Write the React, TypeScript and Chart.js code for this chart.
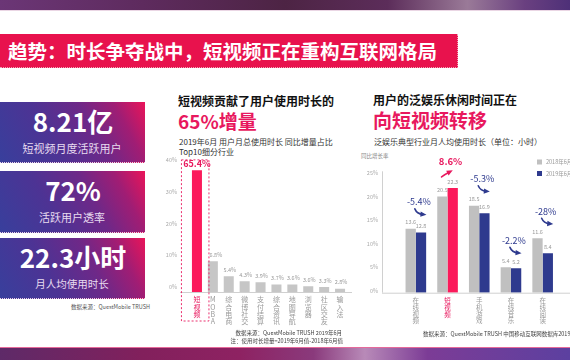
import React, { useEffect, useRef } from 'react';
import { Chart, registerables } from 'chart.js';
Chart.register(...registerables);

const FONT = '"Noto Sans CJK SC", "Noto Sans", sans-serif';

// ---- middle chart data ----
const shareCategories = ['短视频', 'MOBA', '综合电商', '微博社交', '支付结算', '综合资讯', '地图导航', '浏览器', '社区交友', '输入法'];
const shareBarHeights = [38.4, 9.7, 5.0, 3.4, 3.1, 2.4, 2.4, 1.8, 1.6, 1.0];
const shareLabels = ['65.4%', '6.8%', '5.4%', '4.3%', '3.9%', '3.7%', '3.6%', '3.6%', '3.3%', '2.8%'];

// ---- right chart data ----
const leisureCategories = ['在线视频', '短视频', '手机游戏', '在线音乐', '在线阅读'];
const hours2018 = [13.6, 20.5, 18.5, 5.4, 11.6];
const hours2019 = [12.8, 22.3, 16.9, 5.2, 8.4];
const growthLabels = ['-5.4%', '8.6%', '-5.3%', '-2.2%', '-28%'];
const seriesNames = ['2018年6月', '2019年6月'];

// ---- stat boxes ----
const statValues = ['8.21亿', '72%', '22.3小时'];
const statCaptions = ['短视频月度活跃用户', '活跃用户透率', '月人均使用时长'];

const PINK_BAR = '#fb1a5b';
const PINK_TEXT = '#e8185e';
const GRAY_BAR = '#c6c6c6';
const GRAY_BAR2 = '#c0c0c0';
const NAVY = '#2e3a8e';

function drawArrow(ctx: CanvasRenderingContext2D, x0: number, y0: number, cx: number, cy: number, x1: number, y1: number, color: string) {
  ctx.save();
  ctx.strokeStyle = color;
  ctx.fillStyle = color;
  ctx.lineWidth = 1.6;
  ctx.lineCap = 'round';
  ctx.beginPath();
  ctx.moveTo(x0, y0);
  ctx.quadraticCurveTo(cx, cy, x1, y1);
  ctx.stroke();
  const a = Math.atan2(y1 - cy, x1 - cx);
  const s = 3.6;
  ctx.beginPath();
  ctx.moveTo(x1 + Math.cos(a) * s, y1 + Math.sin(a) * s);
  ctx.lineTo(x1 + Math.cos(a + 2.3) * s, y1 + Math.sin(a + 2.3) * s);
  ctx.lineTo(x1 + Math.cos(a - 2.3) * s, y1 + Math.sin(a - 2.3) * s);
  ctx.closePath();
  ctx.fill();
  ctx.restore();
}

const shareDecor = {
  id: 'shareDecor',
  afterDatasetsDraw(chart: any) {
    const ctx = chart.ctx as CanvasRenderingContext2D;
    const area = chart.chartArea;
    const meta = chart.getDatasetMeta(0);
    ctx.save();
    // baseline
    ctx.strokeStyle = '#d0d0d0';
    ctx.lineWidth = 1;
    ctx.beginPath();
    ctx.moveTo(area.left - 9, area.bottom + 0.5);
    ctx.lineTo(area.right + 4, area.bottom + 0.5);
    ctx.stroke();
    meta.data.forEach((bar: any, i: number) => {
      ctx.textAlign = 'center';
      ctx.textBaseline = 'middle';
      if (i === 0) {
        ctx.fillStyle = PINK_TEXT;
        ctx.font = `bold 9px ${FONT}`;
        ctx.fillText(shareLabels[i], bar.x, bar.y - 7);
        // dashed frame
        ctx.strokeStyle = PINK_TEXT;
        ctx.setLineDash([2, 2]);
        ctx.lineWidth = 0.9;
        ctx.strokeRect(bar.x - 15.5, bar.y - 10.5, 27.5, area.bottom + 29 - (bar.y - 10.5));
        ctx.setLineDash([]);
      } else {
        ctx.fillStyle = '#9a9a9a';
        ctx.font = `5.5px ${FONT}`;
        ctx.fillText(shareLabels[i], bar.x + (i === 1 ? 3 : 1), bar.y - 6.5);
      }
    });
    ctx.restore();
  },
};

const leisureDecor = {
  id: 'leisureDecor',
  afterDatasetsDraw(chart: any) {
    const ctx = chart.ctx as CanvasRenderingContext2D;
    const area = chart.chartArea;
    const m0 = chart.getDatasetMeta(0);
    const m1 = chart.getDatasetMeta(1);
    ctx.save();
    ctx.strokeStyle = '#d0d0d0';
    ctx.lineWidth = 1;
    ctx.beginPath();
    ctx.moveTo(area.left - 18, area.bottom + 0.5);
    ctx.lineTo(chart.width, area.bottom + 0.5);
    ctx.moveTo(area.left - 17.5, area.top - 4);
    ctx.lineTo(area.left - 17.5, area.bottom);
    ctx.stroke();

    ctx.textAlign = 'center';
    ctx.textBaseline = 'middle';
    ctx.font = `5.5px ${FONT}`;
    ctx.fillStyle = '#9a9a9a';
    [m0, m1].forEach((m: any, d: number) => {
      const vals = d === 0 ? hours2018 : hours2019;
      m.data.forEach((bar: any, i: number) => {
        ctx.fillText(vals[i].toFixed(1), bar.x, bar.y - 6.5);
      });
    });

    // growth annotations
    m0.data.forEach((b0: any, i: number) => {
      const b1 = m1.data[i];
      const top = Math.min(b0.y, b1.y);
      const cx = (b0.x + b1.x) / 2 + 3;
      const ty = top - 27;
      const positive = !growthLabels[i].startsWith('-');
      if (positive) {
        ctx.fillStyle = PINK_TEXT;
        ctx.font = `bold 9.5px ${FONT}`;
        ctx.fillText(growthLabels[i], cx, ty);
        drawArrow(ctx, cx - 9, ty + 16, cx - 5, ty + 13, cx - 1, ty + 11, PINK_TEXT);
      } else {
        ctx.fillStyle = NAVY;
        ctx.font = `9px ${FONT}`;
        ctx.fillText(growthLabels[i], cx, ty);
        drawArrow(ctx, cx - 4, ty + 7, cx - 2, ty + 12, cx + 4, ty + 12.5, NAVY);
      }
    });

    // legend
    const colors = [GRAY_BAR2, NAVY];
    ctx.textAlign = 'left';
    ctx.font = `5.5px ${FONT}`;
    seriesNames.forEach((name, k) => {
      const y = 12 + k * 11.5;
      ctx.fillStyle = colors[k];
      ctx.fillRect(177, y - 2.5, 5, 5);
      ctx.fillStyle = '#999';
      ctx.fillText(name, 186, y);
    });
    ctx.restore();
  },
};

function T(props: { x: number; y: number; size: number; color?: string; bold?: boolean; align?: string; children: any }) {
  const { x, y, size, color = '#333', bold = false, align = 'left', children } = props;
  const style: any = {
    position: 'absolute',
    top: y - size / 2,
    fontSize: size,
    lineHeight: `${size}px`,
    color,
    fontWeight: bold ? 700 : 400,
    whiteSpace: 'nowrap',
    fontFamily: FONT,
  };
  if (align === 'left') style.left = x;
  else if (align === 'right') style.right = 570 - x;
  else {
    style.left = x - 200;
    style.width = 400;
    style.textAlign = 'center';
  }
  return <div style={style}>{children}</div>;
}

export default function App() {
  const c1 = useRef<HTMLCanvasElement>(null);
  const c2 = useRef<HTMLCanvasElement>(null);

  useEffect(() => {
    const ch1 = new Chart(c1.current as HTMLCanvasElement, {
      type: 'bar',
      data: {
        labels: shareCategories.map((s) => s.split('')),
        datasets: [
          {
            data: shareBarHeights,
            backgroundColor: shareCategories.map((_, i) => (i === 0 ? PINK_BAR : GRAY_BAR)),
            barPercentage: 0.63,
            categoryPercentage: 1,
          },
        ],
      },
      options: {
        animation: false,
        responsive: false,
        maintainAspectRatio: false,
        layout: { padding: { top: 15, right: 12, left: 0, bottom: 0 } },
        plugins: { legend: { display: false }, tooltip: { enabled: false } },
        scales: {
          x: {
            grid: { display: false, drawTicks: false },
            border: { display: false },
            ticks: {
              autoSkip: false,
              maxRotation: 0,
              minRotation: 0,
              padding: 4,
              color: (ctx: any) => (ctx.index === 0 ? PINK_TEXT : '#9a9a9a'),
              font: { family: FONT, size: 7, lineHeight: 1.04 },
            },
            afterFit: (s: any) => {
              s.height = 48;
            },
          },
          y: {
            min: 0,
            max: 40,
            grid: { display: false, drawTicks: false },
            border: { display: false },
            ticks: {
              stepSize: 10,
              padding: 12,
              labelOffset: -5,
              color: '#aaa',
              font: { family: FONT, size: 5.5 },
              callback: (v: any) => v + '%',
            },
            afterFit: (s: any) => {
              s.width = 29;
            },
          },
        },
      } as any,
      plugins: [shareDecor],
    });

    const ch2 = new Chart(c2.current as HTMLCanvasElement, {
      type: 'bar',
      data: {
        labels: leisureCategories.map((s) => s.split('')),
        datasets: [
          {
            label: seriesNames[0],
            data: hours2018,
            backgroundColor: GRAY_BAR2,
            categoryPercentage: 0.65,
            barPercentage: 1,
          },
          {
            label: seriesNames[1],
            data: hours2019,
            backgroundColor: leisureCategories.map((_, i) => (i === 1 ? PINK_BAR : NAVY)),
            categoryPercentage: 0.65,
            barPercentage: 1,
          },
        ],
      },
      options: {
        animation: false,
        responsive: false,
        maintainAspectRatio: false,
        layout: { padding: { top: 17.7, right: 11.5, left: 0, bottom: 0 } },
        plugins: { legend: { display: false }, tooltip: { enabled: false } },
        scales: {
          x: {
            grid: { display: false, drawTicks: false },
            border: { display: false },
            ticks: {
              autoSkip: false,
              maxRotation: 0,
              minRotation: 0,
              padding: 5,
              color: (ctx: any) => (ctx.index === 1 ? PINK_TEXT : '#9a9a9a'),
              font: { family: FONT, size: 6.5, lineHeight: 1.02 },
            },
            afterFit: (s: any) => {
              s.height = 47.3;
            },
          },
          y: {
            min: 0,
            max: 25,
            grid: { display: false, drawTicks: false },
            border: { display: false },
            ticks: {
              stepSize: 5,
              padding: 22,
              labelOffset: -2,
              color: '#aaa',
              font: { family: FONT, size: 5.5 },
              callback: (v: any) => v + '%',
            },
            afterFit: (s: any) => {
              s.width = 40;
            },
          },
        },
      } as any,
      plugins: [leisureDecor],
    });

    return () => {
      ch1.destroy();
      ch2.destroy();
    };
  }, []);

  const boxTops = [101.7, 170.7, 237.7];
  const boxHeights = [60, 61, 60.3];

  return (
    <div
      style={{
        position: 'fixed',
        left: 0,
        top: 0,
        width: 570,
        height: 360,
        overflow: 'hidden',
        background: '#fff',
        fontFamily: FONT,
      }}
    >
      {/* top band */}
      <div
        style={{
          position: 'absolute',
          left: 0,
          top: 0,
          width: 570,
          height: 9.5,
          background:
            'linear-gradient(90deg, #6b3676 0%, #5e2b5e 25%, #4d2444 50%, #5c2d5a 68%, #9a7a98 82%, #6a4080 92%, #4e3078 100%)',
        }}
      />
      <div style={{ position: 'absolute', left: 0, top: 9.5, width: 570, height: 1, background: '#ead6e4' }} />

      {/* title bar */}
      <div
        style={{
          position: 'absolute',
          left: 0,
          top: 33.5,
          width: 457,
          height: 33.5,
          background: '#e8124d',
          borderBottom: '1.5px dotted #f2a0b6',
          borderRight: '1.5px dotted #f2a0b6',
        }}
      />
      <T x={8} y={50.5} size={19.5} color="#fff" bold>
        趋势：时长争夺战中，短视频正在重构互联网格局
      </T>

      {/* stat boxes */}
      {statValues.map((v, i) => (
        <React.Fragment key={i}>
          <div
            style={{
              position: 'absolute',
              left: 0,
              top: boxTops[i],
              width: 145,
              height: boxHeights[i],
              background: 'linear-gradient(62deg, #383f9c 0%, #4d3394 35%, #6e2888 62%, #a01d74 82%, #ea1459 100%)',
              borderBottom: '1.5px dotted #e3d4ea',
            }}
          />
          <T x={73} y={boxTops[i] + 19.5} size={26} color="#fff" bold align="center">
            {v}
          </T>
          <T x={72} y={boxTops[i] + 47} size={i === 2 ? 10.5 : 11} color="#e8dcf0" align="center">
            {statCaptions[i]}
          </T>
        </React.Fragment>
      ))}
      <T x={150} y={307.7} size={5.5} color="#555" align="right">
        数据来源：QuestMobile TRUSH
      </T>

      {/* middle titles */}
      <T x={178} y={100.7} size={12} color="#111" bold>
        短视频贡献了用户使用时长的
      </T>
      <T x={178} y={120} size={19} color={PINK_TEXT} bold>
        65%增量
      </T>
      <T x={179} y={142.3} size={8} color="#333">
        2019年6月 用户月总使用时长 同比增量占比
      </T>
      <T x={179} y={151.7} size={8} color="#333">
        Top10细分行业
      </T>

      {/* right titles */}
      <T x={373} y={100} size={12} color="#111" bold>
        用户的泛娱乐休闲时间正在
      </T>
      <T x={373} y={119.3} size={19} color={PINK_TEXT} bold>
        向短视频转移
      </T>
      <T x={374} y={142.3} size={8} color="#333">
        泛娱乐典型行业月人均使用时长（单位：小时）
      </T>
      <T x={361} y={156.7} size={5.5} color="#888">
        同比增长率
      </T>

      <canvas
        ref={c1}
        width={200}
        height={190}
        style={{ position: 'absolute', left: 160, top: 150, width: 200, height: 190 }}
      />
      <canvas
        ref={c2}
        width={210}
        height={190}
        style={{ position: 'absolute', left: 360, top: 150, width: 210, height: 190 }}
      />

      {/* footnotes */}
      <T x={342} y={334} size={5.5} color="#444" align="right">
        数据来源：QuestMobile TRUSH 2019年6月
      </T>
      <T x={343} y={341.7} size={5.5} color="#444" align="right">
        注：使用时长增量=2019年6月值-2018年6月值
      </T>
      <T x={423} y={334.3} size={5.5} color="#444">
        数据来源：QuestMobile TRUSH 中国移动互联网数据库2019年6月
      </T>

      {/* bottom band */}
      <div
        style={{
          position: 'absolute',
          left: 0,
          top: 347.5,
          width: 570,
          height: 12.5,
          background:
            'linear-gradient(90deg, #5e2a68 0%, #82205c 25%, #8e2262 42%, #8a3a7c 55%, #b88ab8 64%, #7c3c96 75%, #5c40a0 100%)',
        }}
      />
      <div style={{ position: 'absolute', left: 0, top: 347, width: 570, height: 1, background: '#e66a9a' }} />
    </div>
  );
}
